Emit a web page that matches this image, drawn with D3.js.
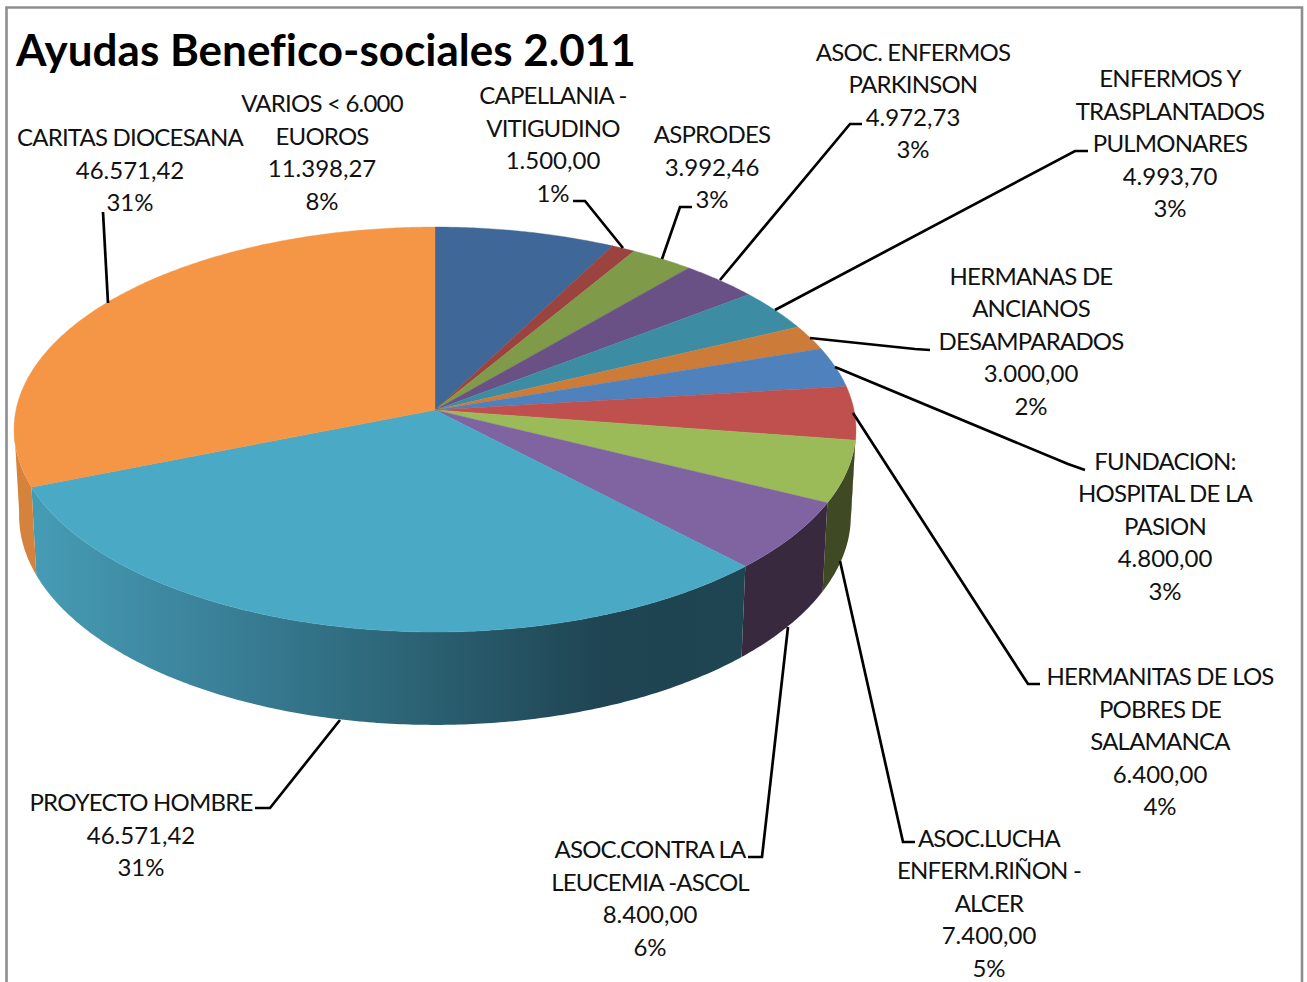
<!DOCTYPE html>
<html>
<head>
<meta charset="utf-8">
<title>Ayudas Benefico-sociales 2.011</title>
<script src="https://cdn.jsdelivr.net/npm/d3@7"></script>
<style>
    html, body { margin: 0; padding: 0; background: #fff; overflow: hidden; }
    svg { display: block; }
    text { font-family: Lato, "Open Sans", sans-serif; fill: #111; font-variant-ligatures: none; }
    .label { font-size: 24px; text-anchor: middle; }
    .name { letter-spacing: -0.8px; }
    .title { font-size: 44px; font-weight: 700; fill: #000; }
    .leader { fill: none; stroke: #000; stroke-width: 2.7; }
</style>
</head>
<body>
<div id="chart"></div>
<script>
// Data, clockwise from 12 o'clock
const title = "Ayudas Benefico-sociales 2.011";
const labelLines = [
    ["VARIOS < 6.000", "EUOROS"],
    ["CAPELLANIA -", "VITIGUDINO"],
    ["ASPRODES"],
    ["ASOC. ENFERMOS", "PARKINSON"],
    ["ENFERMOS Y", "TRASPLANTADOS", "PULMONARES"],
    ["HERMANAS DE", "ANCIANOS", "DESAMPARADOS"],
    ["FUNDACION:", "HOSPITAL DE LA", "PASION"],
    ["HERMANITAS DE LOS", "POBRES DE", "SALAMANCA"],
    ["ASOC.LUCHA", "ENFERM.RIÑON -", "ALCER"],
    ["ASOC.CONTRA LA", "LEUCEMIA -ASCOL"],
    ["PROYECTO HOMBRE"],
    ["CARITAS DIOCESANA"]
];
const amounts = [11398.27, 1500.00, 3992.46, 4972.73, 4993.70, 3000.00, 4800.00, 6400.00, 7400.00, 8400.00, 46571.42, 46571.42];

const topColors = ["#3f6797", "#9b433f", "#7f9a48", "#695185", "#3c8da3", "#cc7b38", "#4f81bd", "#c0504d", "#9bbb59", "#8064a2", "#4aa9c4", "#f59646"];
const wallColors = ["#2f4d71", "#74322f", "#5f7336", "#4e3c63", "#2d6a7a", "#995c2a", "#3b618e", "#903c3a", "#3f4a24", "#38293f", "url(#wall-proyecto)", "#d5823c"];

// Label centre x, first baseline y, then the leader as a polyline
const labelPos = [
    {x: 322, y: 112, leader: null},
    {x: 553, y: 104, leader: [[573, 201], [585, 201], [623, 248]]},
    {x: 712, y: 143, leader: [[692, 207], [680, 207], [662, 259]]},
    {x: 913, y: 60.5, leader: [[862, 124], [850, 124], [720, 280]]},
    {x: 1170, y: 87, leader: [[1088, 151], [1075, 151], [775, 310]]},
    {x: 1031, y: 284.5, leader: [[930, 350], [915, 349], [810, 338]]},
    {x: 1165, y: 469.5, leader: [[1085, 470], [1068, 464], [835, 367]]},
    {x: 1160, y: 685, leader: [[1040, 684], [1028, 684], [853, 413]]},
    {x: 989, y: 846.5, leader: [[915, 842], [903, 842], [840, 561]]},
    {x: 650, y: 858, leader: [[748, 857], [762, 857], [788, 627]]},
    {x: 141, y: 811, leader: [[255, 808], [270, 808], [340, 720]]},
    {x: 130, y: 146, leader: [[103, 212], [108, 303]]}
];

const width = 1307, height = 982;
const lineStep = 32.5;

const svg = d3.select("#chart").append("svg")
    .attr("width", width)
    .attr("height", height);

// Chart frame, open at the bottom because the picture is cut there
svg.append("path")
    .attr("d", "M6.5," + height + "V7.5H1302V" + height)
    .attr("fill", "none")
    .attr("stroke", "#8e8e8e")
    .attr("stroke-width", 2.6);

const defs = svg.append("defs");
const grad = defs.append("linearGradient")
    .attr("id", "wall-proyecto")
    .attr("gradientUnits", "userSpaceOnUse")
    .attr("x1", 37).attr("x2", 745).attr("y1", 0).attr("y2", 0);
[[0, "#469bb4"], [0.25, "#3a8199"], [0.52, "#2c6476"], [0.8, "#1f4452"], [1, "#1e4551"]].forEach(function(s) {
    grad.append("stop").attr("offset", s[0]).attr("stop-color", s[1]);
});

// Disc in unit coordinates, then a perspective divide: the far side is smaller
const perspective = 0.0963;
const xScale = d3.scaleLinear().domain([-1, 1]).range([435 - 419, 435 + 419]);
const yScale = d3.scaleLinear().domain([-1, 1]).range([410 + 200.6, 410 - 200.6]);

// Top of the disc at angle a (radians, clockwise from 12 o'clock)
const project = function(a, r) {
    const u = r * Math.sin(a), v = r * Math.cos(a), w = 1 + perspective * v;
    return [xScale(u / w), yScale(v / w)];
};

// Same point on the lower rim of the wall
const projectBottom = function(a) {
    const p = project(a, 1);
    return [435 + (p[0] - 435) * 0.988, p[1] + 88 + (p[1] - 487) * 0.034];
};

const arcAngles = function(a0, a1) {
    const n = Math.max(2, Math.ceil((a1 - a0) / 0.01));
    return d3.range(n + 1).map(function(i) { return a0 + (a1 - a0) * i / n; });
};

const line = d3.line().curve(d3.curveLinear);
const pie = d3.pie().sort(null).value(function(d) { return d; });
const slices = pie(amounts);
const total = d3.sum(amounts);

// Walls first, from one side extreme of the rim to the other
const wallStart = 94.5 * Math.PI / 180, wallEnd = 265.5 * Math.PI / 180;
const wallSlices = slices.filter(function(d) {
    return d.endAngle > wallStart && d.startAngle < wallEnd || d.index == 11;
});
svg.selectAll(".wall")
    .data(wallSlices)
    .enter()
    .append("path")
    .attr("class", "wall")
    .attr("fill", function(d) { return wallColors[d.index]; })
    .attr("d", function(d) {
        const angles = arcAngles(Math.max(d.startAngle, wallStart), Math.min(d.endAngle, wallEnd));
        const upper = angles.map(function(a) { return project(a, 1); });
        const lower = angles.slice().reverse().map(projectBottom);
        return line(upper.concat(lower)) + "Z";
    });

// Top face
svg.selectAll(".slice")
    .data(slices)
    .enter()
    .append("path")
    .attr("class", "slice")
    .attr("fill", function(d) { return topColors[d.index]; })
    .attr("stroke", function(d) { return topColors[d.index]; })
    .attr("stroke-width", 0.4)
    .attr("d", function(d) {
        const rim = arcAngles(d.startAngle, d.endAngle).map(function(a) { return project(a, 1); });
        return line([project(0, 0)].concat(rim)) + "Z";
    });

// Leader lines
svg.selectAll(".leader")
    .data(labelPos.filter(function(d) { return d.leader; }))
    .enter()
    .append("path")
    .attr("class", "leader")
    .attr("d", function(d) { return line(d.leader); });

// Data labels
const esLocale = d3.formatLocale({decimal: ",", thousands: ".", grouping: [3], currency: ["", ""]});
const fmtAmount = esLocale.format(",.2f");
const fmtPct = d3.format(".0%");

labelLines.forEach(function(lines, i) {
    const rows = lines.concat([fmtAmount(amounts[i]), fmtPct(amounts[i] / total)]);
    svg.append("g").selectAll("text")
        .data(rows)
        .enter()
        .append("text")
        .attr("class", function(d, j) { return j < lines.length ? "label name" : "label"; })
        .attr("x", labelPos[i].x)
        .attr("y", function(d, j) { return labelPos[i].y + j * lineStep; })
        .text(function(d) { return d; });
});

svg.append("text")
    .attr("class", "title")
    .attr("x", 16)
    .attr("y", 66)
    .text(title);
</script>
</body>
</html>
